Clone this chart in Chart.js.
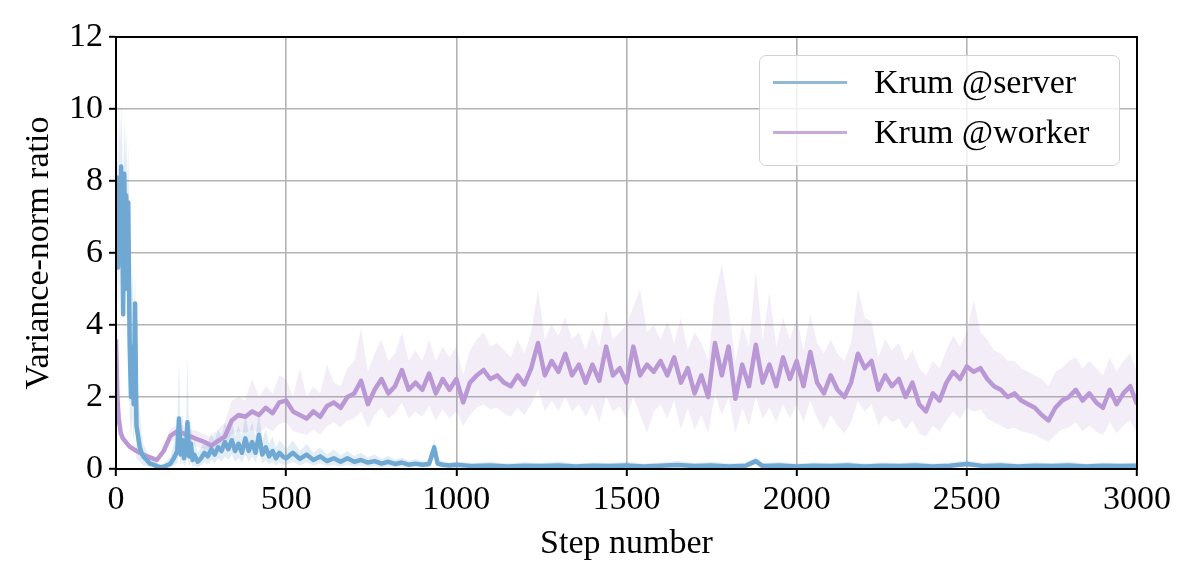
<!DOCTYPE html>
<html>
<head>
<meta charset="utf-8">
<script src="https://cdn.jsdelivr.net/npm/chart.js@4.4.1/dist/chart.umd.min.js"></script>
<style>
    html, body { margin: 0; padding: 0; background: #fff; }
    #wrap { position: relative; width: 1196px; height: 583px; }
    #legend {
        position: absolute; left: 759px; top: 55px; width: 359px; height: 109px;
        border: 1.5px solid #d2d2d2; border-radius: 7px; background: rgba(255, 255, 255, 0.8);
        font-family: "Liberation Serif", serif; font-size: 34px; color: #000;
    }
    .row { position: absolute; left: 0; height: 40px; line-height: 40px; white-space: nowrap; }
    .swatch { position: absolute; left: 13px; top: 19px; width: 74px; height: 3px; }
    .label { position: absolute; left: 114px; top: 0; }
</style>
</head>
<body>
<div id="wrap">
    <canvas id="chart" width="1196" height="583"></canvas>
    <div id="legend">
        <div class="row" style="top: 6px;"><span class="swatch" style="background: #8fb9d4;"></span><span class="label">Krum @server</span></div>
        <div class="row" style="top: 56px;"><span class="swatch" style="background: #c7aadb;"></span><span class="label">Krum @worker</span></div>
    </div>
</div>
<script>
var serverSteps = [0, 3, 6, 9, 12, 15, 18, 21, 24, 27, 30, 33, 36, 40, 44, 48, 52, 56, 60, 65, 70, 75, 80, 90,
    100, 110, 120, 130, 140, 150, 160, 170, 180, 185, 190, 195, 200, 205, 210, 215, 220, 225, 230, 240,
    250, 260, 270, 280, 290, 300, 310, 320, 330, 340, 350, 360, 370, 380, 390, 400, 410, 420, 430, 440, 450, 460, 470, 480, 490,
    500, 520, 540, 560, 580, 600, 620, 640, 660, 680, 700, 720, 740, 760, 780, 800, 820, 840, 860, 880, 900, 920,
    935, 945, 960, 980, 1000,
    1050, 1100, 1150, 1200, 1250, 1300, 1350, 1400, 1450, 1500, 1550, 1600, 1650, 1700, 1750, 1800, 1850, 1880,
    1900, 1950, 2000, 2050, 2100, 2150, 2200, 2250, 2300, 2350, 2400, 2450, 2500, 2550, 2600, 2650, 2700, 2750, 2800, 2850, 2900, 2950, 3000];

var serverMean = [7.0, 8.1, 5.6, 7.8, 6.2, 8.4, 7.2, 4.3, 8.2, 6.5, 7.6, 5.0, 7.4, 3.5, 2.0, 3.4, 1.8, 4.6, 1.2, 0.9, 0.6, 0.45, 0.35, 0.25,
    0.15, 0.12, 0.08, 0.05, 0.06, 0.1, 0.15, 0.3, 0.5, 1.4, 0.4, 0.8, 0.3, 0.5, 1.3, 0.35, 0.7, 0.25, 0.4, 0.2,
    0.3, 0.45, 0.35, 0.55, 0.4, 0.6, 0.5, 0.75, 0.55, 0.8, 0.5, 0.7, 0.45, 0.85, 0.5, 0.75, 0.45, 0.95, 0.4, 0.6, 0.35, 0.5, 0.3, 0.45, 0.35,
    0.3, 0.45, 0.28, 0.4, 0.25, 0.35, 0.22, 0.3, 0.2, 0.3, 0.2, 0.25, 0.18, 0.22, 0.15, 0.2, 0.14, 0.18, 0.12, 0.15, 0.12, 0.14,
    0.6, 0.15, 0.12, 0.1, 0.12,
    0.08, 0.1, 0.07, 0.09, 0.08, 0.1, 0.07, 0.09, 0.08, 0.1, 0.07, 0.09, 0.11, 0.08, 0.1, 0.07, 0.09, 0.22,
    0.08, 0.1, 0.07, 0.09, 0.08, 0.1, 0.07, 0.09, 0.08, 0.1, 0.07, 0.09, 0.14, 0.08, 0.1, 0.07, 0.09, 0.08, 0.1, 0.07, 0.09, 0.08, 0.09];

var serverHigh = [8.5, 9.5, 8.0, 10.0, 8.8, 10.2, 9.0, 7.5, 9.8, 8.6, 9.5, 8.0, 9.0, 6.5, 4.5, 5.5, 4.0, 5.5, 3.0, 2.2, 1.5, 1.0, 0.7, 0.5,
    0.3, 0.25, 0.18, 0.12, 0.15, 0.25, 0.35, 0.7, 1.2, 3.0, 0.9, 1.6, 0.7, 1.0, 3.1, 0.8, 1.4, 0.6, 0.8, 0.45,
    0.6, 0.8, 0.7, 1.0, 0.8, 1.1, 0.9, 1.3, 1.0, 1.4, 0.9, 1.2, 0.9, 1.5, 1.0, 1.3, 0.9, 1.6, 0.8, 1.1, 0.7, 0.9, 0.6, 0.8, 0.7,
    0.55, 0.8, 0.5, 0.7, 0.45, 0.6, 0.4, 0.55, 0.38, 0.5, 0.36, 0.45, 0.32, 0.4, 0.28, 0.36, 0.26, 0.32, 0.22, 0.28, 0.22, 0.25,
    0.8, 0.26, 0.22, 0.18, 0.2,
    0.17, 0.2, 0.16, 0.19, 0.17, 0.21, 0.15, 0.18, 0.17, 0.2, 0.15, 0.18, 0.22, 0.17, 0.2, 0.15, 0.18, 0.32,
    0.17, 0.2, 0.15, 0.18, 0.17, 0.2, 0.15, 0.18, 0.17, 0.2, 0.15, 0.18, 0.24, 0.17, 0.2, 0.15, 0.18, 0.17, 0.2, 0.15, 0.18, 0.17, 0.18];

var serverLow = [5.5, 6.5, 4.0, 5.8, 4.5, 6.5, 5.5, 3.5, 6.0, 4.8, 5.5, 3.8, 5.5, 1.5, 0.8, 1.5, 0.6, 2.5, 0.3, 0.25, 0.2, 0.15, 0.1, 0.08,
    0.05, 0.04, 0.02, 0.01, 0.01, 0.03, 0.05, 0.1, 0.15, 0.4, 0.1, 0.25, 0.08, 0.15, 0.35, 0.1, 0.2, 0.06, 0.1, 0.05,
    0.1, 0.2, 0.12, 0.25, 0.15, 0.3, 0.2, 0.35, 0.25, 0.4, 0.2, 0.3, 0.18, 0.4, 0.2, 0.35, 0.18, 0.45, 0.15, 0.25, 0.12, 0.2, 0.1, 0.18, 0.12,
    0.12, 0.2, 0.1, 0.18, 0.1, 0.15, 0.08, 0.12, 0.07, 0.12, 0.07, 0.1, 0.06, 0.08, 0.05, 0.07, 0.05, 0.06, 0.04, 0.05, 0.04, 0.05,
    0.35, 0.05, 0.04, 0.03, 0.04,
    0.03, 0.04, 0.02, 0.03, 0.03, 0.04, 0.02, 0.03, 0.03, 0.04, 0.02, 0.03, 0.04, 0.03, 0.04, 0.02, 0.03, 0.12,
    0.03, 0.04, 0.02, 0.03, 0.03, 0.04, 0.02, 0.03, 0.03, 0.04, 0.02, 0.03, 0.06, 0.03, 0.04, 0.02, 0.03, 0.03, 0.04, 0.02, 0.03, 0.03, 0.03];

var workerSteps = [0, 4, 8, 14,
    20, 40, 60, 80, 100, 120, 140,
    160, 180, 200, 220, 240, 260, 280, 300,
    320, 340, 360, 380, 400, 420, 440, 460, 480, 500,
    520, 540, 560, 580, 600, 620, 640, 660, 680, 700,
    720, 740, 760, 780, 800, 820, 840, 860, 880, 900,
    920, 940, 960, 980, 1000, 1020, 1040, 1060, 1080, 1100,
    1120, 1140, 1160, 1180, 1200, 1220, 1240, 1260, 1280, 1300,
    1320, 1340, 1360, 1380, 1400, 1420, 1440, 1460, 1480, 1500,
    1520, 1540, 1560, 1580, 1600, 1620, 1640, 1660, 1680, 1700,
    1720, 1740, 1760, 1780, 1800, 1820, 1840, 1860, 1880, 1900,
    1920, 1940, 1960, 1980, 2000, 2020, 2040, 2060, 2080, 2100,
    2120, 2140, 2160, 2180, 2200, 2220, 2240, 2260, 2280, 2300,
    2320, 2340, 2360, 2380, 2400, 2420, 2440, 2460, 2480, 2500,
    2520, 2540, 2560, 2580, 2600, 2620, 2640, 2660, 2680, 2700,
    2720, 2740, 2760, 2780, 2800, 2820, 2840, 2860, 2880, 2900,
    2920, 2940, 2960, 2980, 3000];

var workerMean = [3.6, 2.0, 1.4, 1.0,
    0.85, 0.62, 0.5, 0.4, 0.32, 0.25, 0.5,
    0.92, 1.05, 0.98, 0.9, 0.82, 0.75, 0.65, 0.78,
    0.9, 1.35, 1.5, 1.45, 1.6, 1.5, 1.7, 1.55, 1.85, 1.9,
    1.6, 1.5, 1.4, 1.6, 1.45, 1.75, 1.85, 1.7, 2.0, 2.1,
    2.45, 1.8, 2.2, 2.5, 2.1, 2.3, 2.75, 2.2, 2.4, 2.2,
    2.65, 2.1, 2.5, 2.2, 2.5, 1.85, 2.4, 2.6, 2.75, 2.5,
    2.6, 2.4, 2.3, 2.6, 2.35, 2.8, 3.5, 2.6, 3.0, 2.7,
    3.2, 2.6, 2.9, 2.4, 2.9, 2.45, 3.4, 2.6, 2.8, 2.4,
    3.4, 2.6, 2.9, 2.7, 3.0, 2.6, 3.1, 2.4, 2.8, 2.1,
    2.6, 2.0, 3.5, 2.6, 3.4, 1.95, 2.9, 2.3, 3.45, 2.4,
    2.9, 2.3, 3.1, 2.5, 3.0, 2.3, 3.25, 2.4, 2.1, 2.6,
    2.2, 2.0, 2.4, 3.2, 2.8, 3.0, 2.2, 2.6, 2.3, 2.5,
    2.0, 2.4, 1.8, 1.6, 2.1, 1.9, 2.4, 2.7, 2.5, 2.85,
    2.7, 2.8, 2.5, 2.3, 2.2, 2.0, 2.1, 1.9, 1.8, 1.7,
    1.5, 1.35, 1.7, 1.9, 2.0, 2.2, 1.9, 2.1, 1.85, 1.7,
    2.2, 1.8, 2.1, 2.3, 1.8];

var workerHigh = [3.7, 2.3, 1.6, 1.15,
    0.95, 0.7, 0.58, 0.47, 0.38, 0.32, 0.62,
    1.1, 1.25, 1.2, 1.1, 1.05, 0.95, 0.9, 1.1,
    1.3, 1.9, 2.0, 1.9, 2.5, 2.0, 2.3, 2.1, 2.6, 2.5,
    2.0, 2.8, 2.0, 2.3, 2.1, 2.9, 2.4, 2.3, 2.8, 3.0,
    3.9, 2.7, 3.2, 3.6, 3.0, 3.2, 3.8, 3.0, 3.3, 3.0,
    3.6, 3.0, 3.4, 3.1, 3.4, 2.6, 3.3, 3.6, 3.8, 3.4,
    3.5, 3.3, 3.1, 3.6, 3.2, 3.8, 5.0, 3.6, 4.0, 3.7,
    4.2, 3.6, 3.8, 3.3, 3.9, 3.4, 4.4, 3.6, 3.8, 4.0,
    4.5, 5.0, 3.8, 4.0, 3.6, 4.1, 3.5, 4.2, 3.3, 3.8,
    3.5, 3.0, 4.8, 5.7, 4.5, 3.0, 4.0, 3.4, 5.5, 3.6,
    4.9, 3.4, 4.2, 3.6, 4.2, 3.3, 4.3, 3.5, 3.2, 3.6,
    3.2, 3.0, 3.5, 5.0, 4.2, 4.1, 3.1, 3.6, 3.3, 3.5,
    3.0, 3.3, 2.8, 2.6, 3.0, 2.8, 3.3, 3.7, 3.4, 3.8,
    4.7, 3.8, 3.6, 3.3, 3.2, 3.0, 3.0, 2.8, 2.7, 2.6,
    2.5, 2.3, 2.7, 2.8, 3.0, 3.1, 2.8, 3.0, 2.8, 2.6,
    3.1, 2.7, 3.0, 3.2, 2.7];

var workerLow = [3.4, 1.8, 1.25, 0.88,
    0.75, 0.55, 0.44, 0.34, 0.26, 0.18, 0.38,
    0.75, 0.85, 0.78, 0.7, 0.62, 0.55, 0.48, 0.55,
    0.65, 0.95, 1.05, 1.0, 1.1, 1.0, 1.15, 1.05, 1.25, 1.3,
    1.05, 1.0, 0.95, 1.1, 0.95, 1.2, 1.3, 1.15, 1.35, 1.4,
    1.6, 1.15, 1.5, 1.7, 1.4, 1.55, 1.85, 1.4, 1.6, 1.45,
    1.75, 1.35, 1.65, 1.4, 1.6, 1.2, 1.5, 1.7, 1.8, 1.65,
    1.7, 1.55, 1.45, 1.7, 1.5, 1.8, 2.2, 1.6, 1.9, 1.6,
    2.0, 1.6, 1.8, 1.45, 1.8, 1.3, 2.0, 1.6, 1.75, 1.4,
    2.0, 1.5, 1.0, 1.6, 1.8, 1.4, 1.9, 1.1, 1.7, 1.1,
    1.5, 1.0, 2.1, 1.5, 2.0, 1.0, 1.7, 1.2, 2.0, 1.4,
    1.7, 1.3, 1.8, 1.4, 1.8, 1.3, 1.9, 1.4, 1.1, 1.5,
    1.2, 1.0, 1.3, 1.9, 1.6, 1.8, 1.2, 1.5, 1.3, 1.4,
    1.1, 1.35, 1.0, 0.9, 1.2, 1.05, 1.35, 1.6, 1.4, 1.7,
    1.6, 1.65, 1.4, 1.3, 1.2, 1.1, 1.15, 1.05, 1.0, 0.95,
    0.85, 0.75, 0.95, 1.1, 1.15, 1.3, 1.05, 1.2, 1.05, 0.95,
    1.3, 1.0, 1.2, 1.35, 1.0];

var xTicks = [0, 500, 1000, 1500, 2000, 2500, 3000];
var yTicks = [0, 2, 4, 6, 8, 10, 12];

var BLUE = "#6fa8d2";
var PURPLE = "#ba98d6";
var BLUE_BAND = "rgba(31, 119, 180, 0.13)";
var PURPLE_BAND = "rgba(148, 103, 189, 0.12)";
var FONT = "'Liberation Serif', 'Times New Roman', serif";

function points(steps, values) {
    return steps.map(function (s, i) {
        return { x: s, y: values[i] };
    });
}

function line(data, color, order) {
    return { data: data, borderColor: color, borderWidth: 4.5, borderJoinStyle: "round", pointRadius: 0, tension: 0, fill: false, order: order };
}

function band(data, color, fill, order) {
    return { data: data, borderWidth: 0, borderColor: "rgba(0,0,0,0)", backgroundColor: color, pointRadius: 0, tension: 0, fill: fill, order: order };
}

// black frame on top of everything, like the matplotlib spines
var framePlugin = {
    id: "frame",
    afterDatasetsDraw: function (chart) {
        var a = chart.chartArea;
        var ctx = chart.ctx;
        ctx.save();
        ctx.strokeStyle = "#000";
        ctx.lineWidth = 2;
        ctx.strokeRect(a.left, a.top, a.right - a.left, a.bottom - a.top);
        ctx.restore();
    }
};

function plainLabel(value) {
    return String(value);
}

new Chart(document.getElementById("chart").getContext("2d"), {
    type: "line",
    data: {
        datasets: [
            line(points(serverSteps, serverMean), BLUE, 1),
            line(points(workerSteps, workerMean), PURPLE, 2),
            band(points(serverSteps, serverHigh), BLUE_BAND, "+1", 3),
            band(points(serverSteps, serverLow), BLUE_BAND, false, 3),
            band(points(workerSteps, workerHigh), PURPLE_BAND, "+1", 4),
            band(points(workerSteps, workerLow), PURPLE_BAND, false, 4)
        ]
    },
    options: {
        responsive: false,
        animation: false,
        events: [],
        layout: { padding: { left: 0, right: 59, top: 37, bottom: 0 } },
        plugins: { legend: { display: false }, tooltip: { enabled: false } },
        scales: {
            x: {
                type: "linear",
                min: 0,
                max: 3000,
                afterFit: function (scale) { scale.height = 114; },
                afterBuildTicks: function (scale) {
                    scale.ticks = xTicks.map(function (v) { return { value: v }; });
                },
                ticks: { color: "#000", font: { family: FONT, size: 34 }, padding: 4, maxRotation: 0, callback: plainLabel },
                grid: { color: "#b3b3b3", lineWidth: 1.6, drawTicks: true, tickLength: 7, tickColor: "#000", tickWidth: 2 },
                border: { display: true, color: "#000", width: 2 },
                title: { display: true, text: "Step number", color: "#000", font: { family: FONT, size: 34 }, padding: { top: 0, bottom: 19 } }
            },
            y: {
                min: 0,
                max: 12,
                afterFit: function (scale) { scale.width = 116; },
                afterBuildTicks: function (scale) {
                    scale.ticks = yTicks.map(function (v) { return { value: v }; });
                },
                ticks: { color: "#000", font: { family: FONT, size: 34 }, padding: 6, callback: plainLabel },
                grid: { color: "#b3b3b3", lineWidth: 1.6, drawTicks: true, tickLength: 7, tickColor: "#000", tickWidth: 2 },
                border: { display: true, color: "#000", width: 2 },
                title: { display: true, text: "Variance-norm ratio", color: "#000", font: { family: FONT, size: 34 }, padding: { top: 19, bottom: 0 } }
            }
        }
    },
    plugins: [framePlugin]
});
</script>
</body>
</html>
